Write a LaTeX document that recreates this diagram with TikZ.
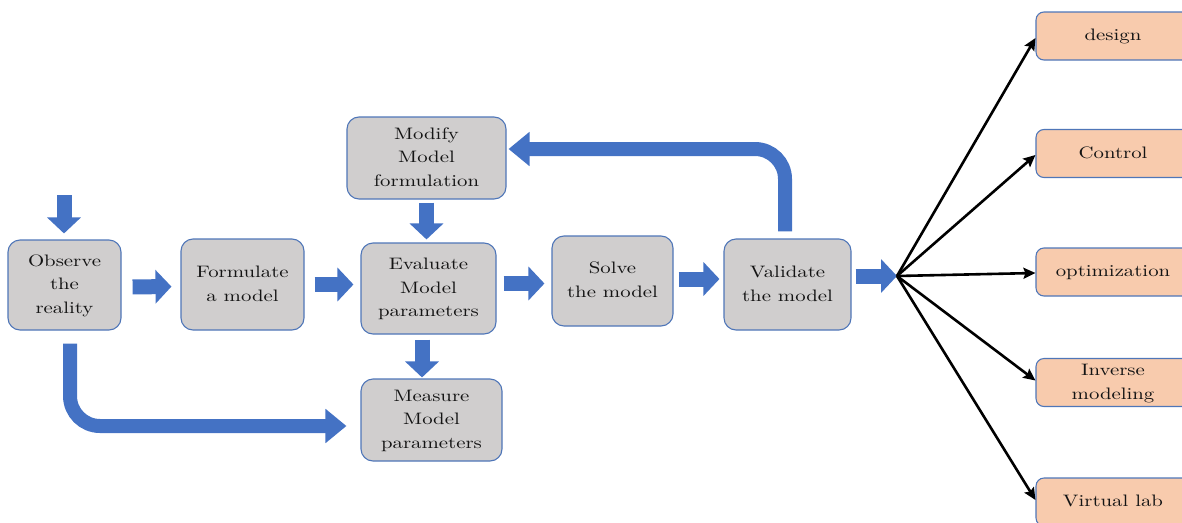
\documentclass[tikz,border=0pt]{standalone}
\usepackage{graphicx}
\usetikzlibrary{arrows.meta,calc}
\definecolor{flowblue}{HTML}{4472C4}
\definecolor{edgeblue}{HTML}{4F76B8}
\definecolor{boxgray}{HTML}{D0CECE}
\definecolor{useorange}{HTML}{F8CBAD}
\definecolor{inkgray}{HTML}{141414}
% centred lines of 10pt text, enlarged (wider than tall)
\newcommand\widetext[1]{\scalebox{2.08}[1.66]{\fontsize{10}{14.3}\selectfont\begin{tabular}{@{}c@{}}#1\end{tabular}}}
\begin{document}
\begin{tikzpicture}[x=1pt,y=-1pt,
  stepbox/.style={draw=edgeblue, line width=1.1pt, fill=boxgray,
    rounded corners=12pt, inner sep=0pt, text=inkgray},
  usebox/.style={draw=edgeblue, line width=1.1pt, fill=useorange,
    rounded corners=8pt, inner sep=0pt, text=inkgray,
    minimum width=154pt, minimum height=48pt},
  flow/.style={draw=flowblue, line width=15pt,
    -{Triangle[length=16pt,width=33pt]}},
  bentflow/.style={draw=flowblue, line width=14pt, rounded corners=30pt,
    -{Triangle[length=21pt,width=33pt]}},
  fanarrow/.style={draw=black, line width=2.6pt,
    -{Stealth[length=12pt,width=11pt,inset=2pt]}}]
\useasboundingbox (0,0) rectangle (1182,522);

% main chain of steps
\node[stepbox, minimum width=113pt, minimum height=90pt] (obs)   at (64.5,285)   {\widetext{Observe\\the\\reality}};
\node[stepbox, minimum width=123pt, minimum height=91pt] (form)  at (242.5,284.5) {\widetext{Formulate\\a model}};
\node[stepbox, minimum width=159pt, minimum height=82pt] (mod)   at (426.5,158)   {\widetext{Modify\\Model\\formulation}};
\node[stepbox, minimum width=135pt, minimum height=91pt] (eval)  at (428.5,288.5) {\widetext{Evaluate\\Model\\parameters}};
\node[stepbox, minimum width=121pt, minimum height=90pt] (solve) at (612.5,281)   {\widetext{Solve\\the model}};
\node[stepbox, minimum width=127pt, minimum height=91pt] (valid) at (787.5,284.5) {\widetext{Validate\\the model}};
\node[stepbox, minimum width=141pt, minimum height=82pt] (meas)  at (431.5,420)   {\widetext{Measure\\Model\\parameters}};

% uses of the model
\node[usebox] (design) at (1113,36)    {\widetext{design}};
\node[usebox] (ctrl)   at (1113,153.5) {\widetext{Control}};
\node[usebox] (optim)  at (1113,272)   {\widetext{optimization}};
\node[usebox] (inv)    at (1113,382.5) {\widetext{Inverse\\modeling}};
\node[usebox] (vlab)   at (1113,502)   {\widetext{Virtual lab}};

% entry arrow and fan-out point
\coordinate (start) at (64,195);
\coordinate (fan) at (897,276);

% block arrows
\draw[flow, shorten >=6pt] (start) -- (obs.north -| start);
\draw[flow, shorten <=11pt, shorten >=9pt] ($(obs.east)+(0,2)$) -- ($(form.west)+(0,2)$);
\draw[flow, shorten <=10pt, shorten >=7pt] (form.east) -- (form.east -| eval.west);
\draw[flow, shorten <=7pt, shorten >=7pt] ($(eval.east)+(0,-5)$) -- ($(eval.east -| solve.west)+(0,-5)$);
\draw[flow, shorten <=5pt, shorten >=4pt] ($(solve.east)+(0,-2)$) -- ($(solve.east -| valid.west)+(0,-2)$);
\draw[flow, shorten <=4pt] ($(valid.east)+(0,-8.5)$) -- (fan);
\draw[flow, shorten <=3pt, shorten >=3pt] (mod.south) -- (mod.south |- eval.north);
\draw[flow, shorten <=5pt, shorten >=1pt] ($(eval.south)+(-6.5,0)$) -- ($(eval.south |- meas.north)+(-6.5,0)$);

% bent arrows
\draw[bentflow, shorten >=14pt] ($(obs.south)+(5.5,13)$) |- ($(meas.west)+(0,6)$);
\draw[bentflow, shorten >=2pt] ($(valid.north)+(-2.5,-7)$) |- ($(mod.east)+(0,-9)$);

% fan of uses
\draw[fanarrow] (fan) -- ($(design.west)+(0,2)$);
\draw[fanarrow] (fan) -- ($(ctrl.west)+(0,1.5)$);
\draw[fanarrow] (fan) -- ($(optim.west)+(0,1)$);
\draw[fanarrow] (fan) -- ($(inv.west)+(0,-2)$);
\draw[fanarrow] (fan) -- ($(vlab.west)+(0,-2)$);
\end{tikzpicture}
\end{document}
